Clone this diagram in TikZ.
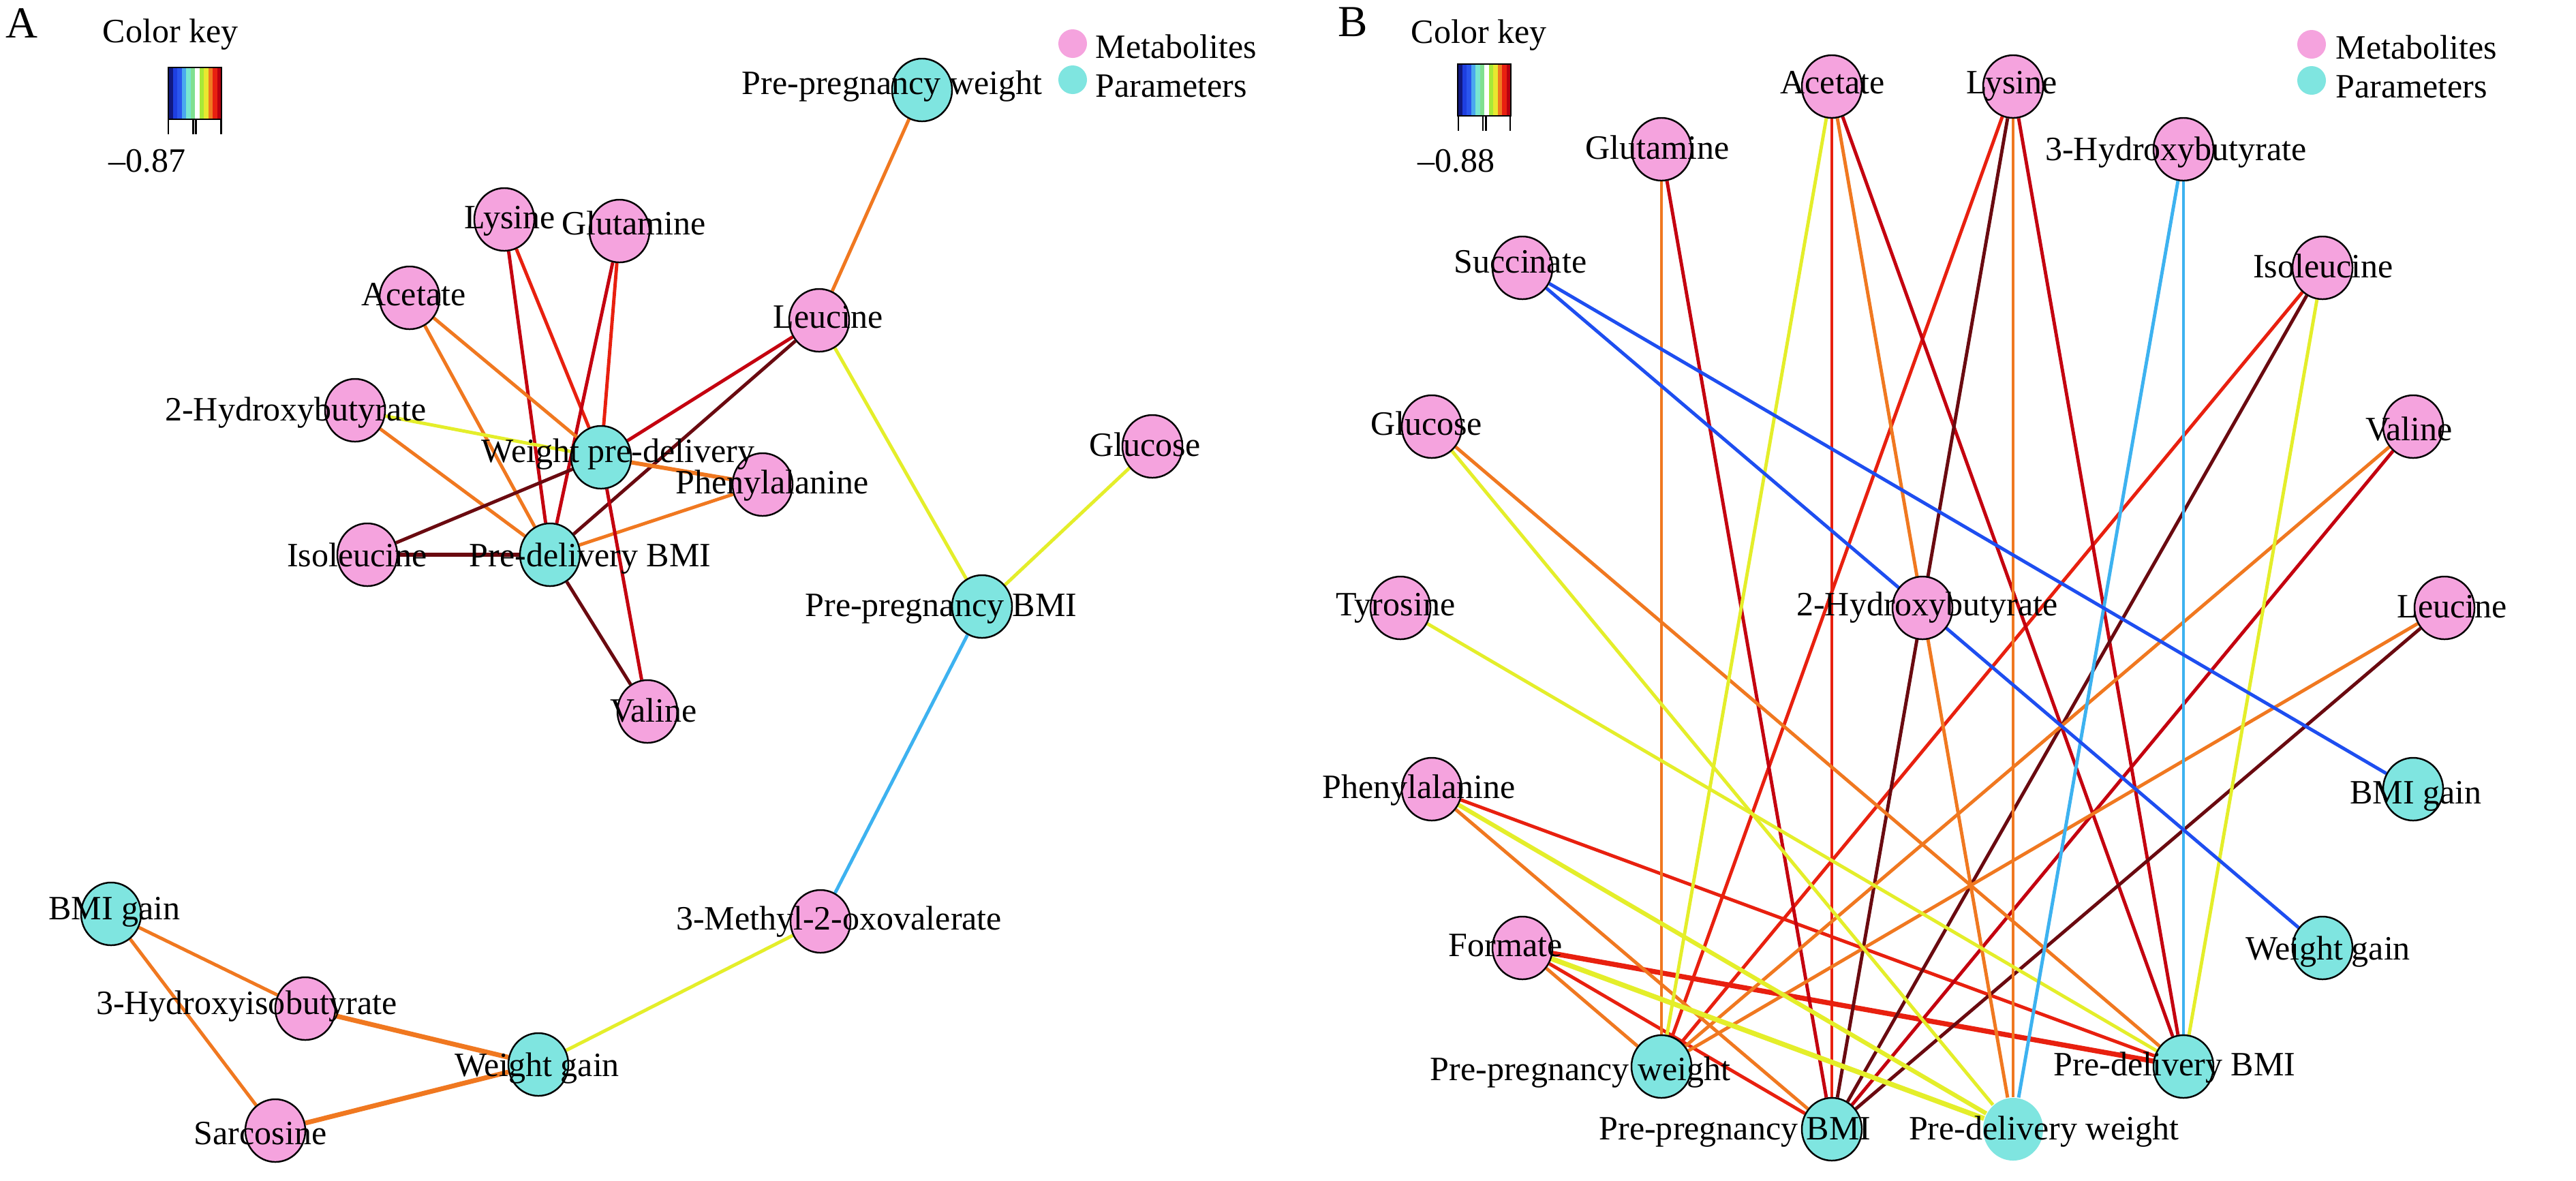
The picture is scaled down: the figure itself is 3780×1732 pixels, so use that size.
\documentclass[tikz,border=0pt]{standalone}
\usepackage{fontspec}
\setmainfont{Liberation Serif}
\usetikzlibrary{shapes.geometric}
\definecolor{metpink}{HTML}{F5A3DE}
\definecolor{parcyan}{HTML}{7FE5E0}
\definecolor{cRed}{HTML}{E8200F}
\definecolor{cDark}{HTML}{C4000F}
\definecolor{cMaroon}{HTML}{6A0A10}
\definecolor{cOrange}{HTML}{F07820}
\definecolor{cYellow}{HTML}{E4EE2A}
\definecolor{cLBlue}{HTML}{3DB2F0}
\definecolor{cBlue}{HTML}{1E4EF0}
\definecolor{k1}{HTML}{101880}
\definecolor{k2}{HTML}{1E3FE0}
\definecolor{k3}{HTML}{2A55EE}
\definecolor{k4}{HTML}{4AA8EE}
\definecolor{k5}{HTML}{78E6D0}
\definecolor{k6}{HTML}{80E090}
\definecolor{k7}{HTML}{FFFFFF}
\definecolor{k8}{HTML}{A8E838}
\definecolor{k9}{HTML}{E8E830}
\definecolor{k10}{HTML}{F07A22}
\definecolor{k11}{HTML}{E82010}
\definecolor{k12}{HTML}{B80010}
\definecolor{k13}{HTML}{600010}
\pgfdeclarelayer{bg}
\pgfdeclarelayer{paper}
\pgfsetlayers{paper,bg,main}
\newcommand\lblfont{\fontsize{14.23pt}{17pt}\selectfont}
\newcommand\bigfont{\fontsize{18.5pt}{22pt}\selectfont}
\newcommand\colkey[2]{%
  \foreach \c [count=\i from 0] in {k1,k2,k3,k4,k5,k6,k7,k8,k9,k10,k11,k12}
    {\fill[\c] ({#1+\i*6.5},#2) rectangle ++(6.6,76);}
  \draw[line width=0.75pt] (#1,#2) rectangle ++(78,76);
}
\begin{document}
\begin{tikzpicture}[x=0.01cm,y=-0.01cm,
  met/.style={ellipse,draw=black,line width=0.7pt,fill=metpink,minimum width=0.88cm,minimum height=0.92cm,inner sep=0pt},
  par/.style={met,fill=parcyan},
  lab/.style={anchor=base,inner sep=0pt,font=\lblfont},
  txt/.style={anchor=base west,inner sep=0pt,font=\lblfont},
  dot/.style={circle,inner sep=0pt,minimum size=0.42cm},
  eR/.style={draw=cRed,line width=1.4pt},
  eD/.style={draw=cDark,line width=1.4pt},
  eM/.style={draw=cMaroon,line width=1.4pt},
  eO/.style={draw=cOrange,line width=1.4pt},
  eY/.style={draw=cYellow,line width=1.4pt},
  eL/.style={draw=cLBlue,line width=1.4pt},
  eB/.style={draw=cBlue,line width=1.4pt},
  thick2/.style={line width=2pt}]
\begin{pgfonlayer}{paper}
\fill[white] (0,0) rectangle (3780,1732);
\end{pgfonlayer}
\useasboundingbox (0,0) rectangle (3780,1732);

% ---------- Panel A headers ----------
\node[anchor=base west,inner sep=0pt,font=\bigfont] (aTitle) at (8,55) {A};
\node[txt] (aKeyT) at (150,62) {Color key};
\colkey{247}{99}
\foreach \tx in {247,283.3,287.3,324.3} {\draw[line width=0.7pt] (\tx,175) -- (\tx,197);}
\node[txt] (aKeyV) at (159,252) {–0.87};
\node[dot,fill=metpink] (aLegM) at (1574,64) {};
\node[dot,fill=parcyan] (aLegP) at (1574,117) {};
\node[txt] (aLegMt) at (1607,85) {Metabolites};
\node[txt] (aLegPt) at (1607,142) {Parameters};

% ---------- Panel A nodes ----------
\node[par] (aPPW) at (1353,132) {};
\node[met] (aLys) at (740,322) {};
\node[met] (aGln) at (909,339) {};
\node[met] (aAce) at (601,437) {};
\node[met] (aLeu) at (1202,470) {};
\node[met] (aHB) at (521,602) {};
\node[par] (aWPD) at (882,671) {};
\node[met] (aPhe) at (1119,711) {};
\node[met] (aGlc) at (1691,655) {};
\node[met] (aIle) at (539,814) {};
\node[par] (aPDB) at (807,814) {};
\node[par] (aPPB) at (1441,890) {};
\node[met] (aVal) at (950,1044) {};
\node[met] (aMOV) at (1204,1352) {};
\node[par] (aBG) at (163,1341) {};
\node[met] (aHIB) at (448,1480) {};
\node[par] (aWG) at (790,1562) {};
\node[met] (aSar) at (404,1659) {};

\node[lab] (aPPWt) at (1309,138) {Pre-pregnancy weight};
\node[lab] (aLyst) at (748,335) {Lysine};
\node[lab] (aGlnt) at (930,344) {Glutamine};
\node[lab] (aAcet) at (607,448) {Acetate};
\node[lab] (aLeut) at (1215,481) {Leucine};
\node[lab] (aHBt) at (434,617) {2-Hydroxybutyrate};
\node[lab] (aWPDt) at (907,678) {Weight pre-delivery};
\node[lab] (aPhet) at (1133,724) {Phenylalanine};
\node[lab] (aGlct) at (1680,669) {Glucose};
\node[lab] (aIlet) at (524,831) {Isoleucine};
\node[lab] (aPDBt) at (866,831) {Pre-delivery BMI};
\node[lab] (aPPBt) at (1381,904) {Pre-pregnancy BMI};
\node[lab] (aValt) at (959,1059) {Valine};
\node[lab] (aMOVt) at (1231,1364) {3-Methyl-2-oxovalerate};
\node[lab] (aBGt) at (168,1349) {BMI gain};
\node[lab] (aHIBt) at (362,1488) {3-Hydroxyisobutyrate};
\node[lab] (aWGt) at (788,1579) {Weight gain};
\node[lab] (aSart) at (382,1679) {Sarcosine};

\begin{pgfonlayer}{bg}
\draw[eD] (aLys) -- (aPDB);
\draw[eR] (aLys) -- (aWPD);
\draw[eD] (aGln) -- (aPDB);
\draw[eR] (aGln) -- (aWPD);
\draw[eO] (aAce) -- (aWPD);
\draw[eO] (aAce) -- (aPDB);
\draw[eY] (aHB) -- (aWPD);
\draw[eO] (aHB) -- (aPDB);
\draw[eD] (aLeu) -- (aWPD);
\draw[eM] (aLeu) -- (aPDB);
\draw[eO,line width=1.7pt] (aPhe) -- (aWPD);
\draw[eO] (aPhe) -- (aPDB);
\draw[eM] (aIle) -- (aWPD);
\draw[eM,line width=1.7pt] (aIle) -- (aPDB);
\draw[eM] (aVal) -- (aPDB);
\draw[eD] (aVal) -- (aWPD);
\draw[eO] (aLeu) -- (aPPW);
\draw[eY] (aLeu) -- (aPPB);
\draw[eY] (aGlc) -- (aPPB);
\draw[eL] (aPPB) -- (aMOV);
\draw[eY] (aMOV) -- (aWG);
\draw[eO] (aBG) -- (aHIB);
\draw[eO] (aBG) -- (aSar);
\draw[eO,thick2] (aHIB) -- (aWG);
\draw[eO,thick2] (aSar) -- (aWG);
\end{pgfonlayer}

% ---------- Panel B headers ----------
\node[anchor=base west,inner sep=0pt,font=\bigfont] (bTitle) at (1963,53) {B};
\node[txt] (bKeyT) at (2070,63) {Color key};
\colkey{2139}{94}
\foreach \tx in {2140,2176,2180.7,2216} {\draw[line width=0.7pt] (\tx,170) -- (\tx,192);}
\node[txt] (bKeyV) at (2080,252) {–0.88};
\node[dot,fill=metpink] (bLegM) at (3392,65) {};
\node[dot,fill=parcyan] (bLegP) at (3392,118) {};
\node[txt] (bLegMt) at (3427,86) {Metabolites};
\node[txt] (bLegPt) at (3427,143) {Parameters};

% ---------- Panel B nodes ----------
\node[met] (bLeu) at (3587,892) {};
\node[met] (bVal) at (3541,626) {};
\node[met] (bIle) at (3408,393) {};
\node[met] (bHB3) at (3204,219) {};
\node[met] (bLys) at (2954,127) {};
\node[met] (bAce) at (2688,127) {};
\node[met] (bGln) at (2438,219) {};
\node[met] (bSuc) at (2234,393) {};
\node[met] (bGlc) at (2101,626) {};
\node[met] (bTyr) at (2055,892) {};
\node[met] (bPhe) at (2101,1158) {};
\node[met] (bFor) at (2234,1391) {};
\node[par] (bPPW) at (2438,1565) {};
\node[par] (bPPB) at (2688,1657) {};
\node[par,draw=none] (bPDW) at (2954,1657) {};
\node[par] (bPDB) at (3204,1565) {};
\node[par] (bWG) at (3408,1391) {};
\node[par] (bBG) at (3541,1158) {};
\node[met] (bHB2) at (2821,892) {};

\node[lab] (bLeut) at (3598,906) {Leucine};
\node[lab] (bValt) at (3535,646) {Valine};
\node[lab] (bIlet) at (3409,407) {Isoleucine};
\node[lab] (bHB3t) at (3193,235) {3-Hydroxybutyrate};
\node[lab] (bLyst) at (2952,137) {Lysine};
\node[lab] (bAcet) at (2689,137) {Acetate};
\node[lab] (bGlnt) at (2432,233) {Glutamine};
\node[lab] (bSuct) at (2231,400) {Succinate};
\node[lab] (bGlct) at (2093,638) {Glucose};
\node[lab] (bTyrt) at (2048,903) {Tyrosine};
\node[lab] (bPhet) at (2082,1171) {Phenylalanine};
\node[lab] (bFort) at (2209,1403) {Formate};
\node[lab] (bPPWt) at (2319,1585) {Pre-pregnancy weight};
\node[lab] (bPPBt) at (2546,1672) {Pre-pregnancy BMI};
\node[lab] (bPDWt) at (2999,1672) {Pre-delivery weight};
\node[lab] (bPDBt) at (3191,1578) {Pre-delivery BMI};
\node[lab] (bWGt) at (3416,1408) {Weight gain};
\node[lab] (bBGt) at (3545,1179) {BMI gain};
\node[lab] (bHB2t) at (2828,903) {2-Hydroxybutyrate};

\begin{pgfonlayer}{bg}
\draw[eR] (bAce) -- (bPPB);
\draw[eR] (bLys) -- (bPPW);
\draw[eR] (bIle) -- (bPPW);
\draw[eR] (bPhe) -- (bPDB);
\draw[eR,line width=2.1pt] (bFor) -- (bPDB);
\draw[eR] (bFor) -- (bPPB);
\draw[eD] (bGln) -- (bPPB);
\draw[eD] (bAce) -- (bPDB);
\draw[eD] (bLys) -- (bPDB);
\draw[eD] (bVal) -- (bPPB);
\draw[eM] (bLys) -- (bPPB);
\draw[eM] (bIle) -- (bPPB);
\draw[eM] (bLeu) -- (bPPB);
\draw[eO] (bGln) -- (bPPW);
\draw[eO] (bAce) -- (bPDW);
\draw[eO] (bLys) -- (bPDW);
\draw[eO] (bVal) -- (bPPW);
\draw[eO] (bLeu) -- (bPPW);
\draw[eO] (bGlc) -- (bPDB);
\draw[eO] (bPhe) -- (bPPB);
\draw[eO] (bFor) -- (bPPW);
\draw[eY] (bAce) -- (bPPW);
\draw[eY] (bIle) -- (bPDB);
\draw[eY] (bGlc) -- (bPDW);
\draw[eY] (bTyr) -- (bPDB);
\draw[eY,line width=1.8pt] (bPhe) -- (bPDW);
\draw[eY,line width=2.1pt] (bFor) -- (bPDW);
\draw[eL] (bHB3) -- (bPDW);
\draw[eL] (bHB3) -- (bPDB);
\draw[eB] (bSuc) -- (bBG);
\draw[eB] (bSuc) -- (bWG);
\end{pgfonlayer}
\end{tikzpicture}
\end{document}
